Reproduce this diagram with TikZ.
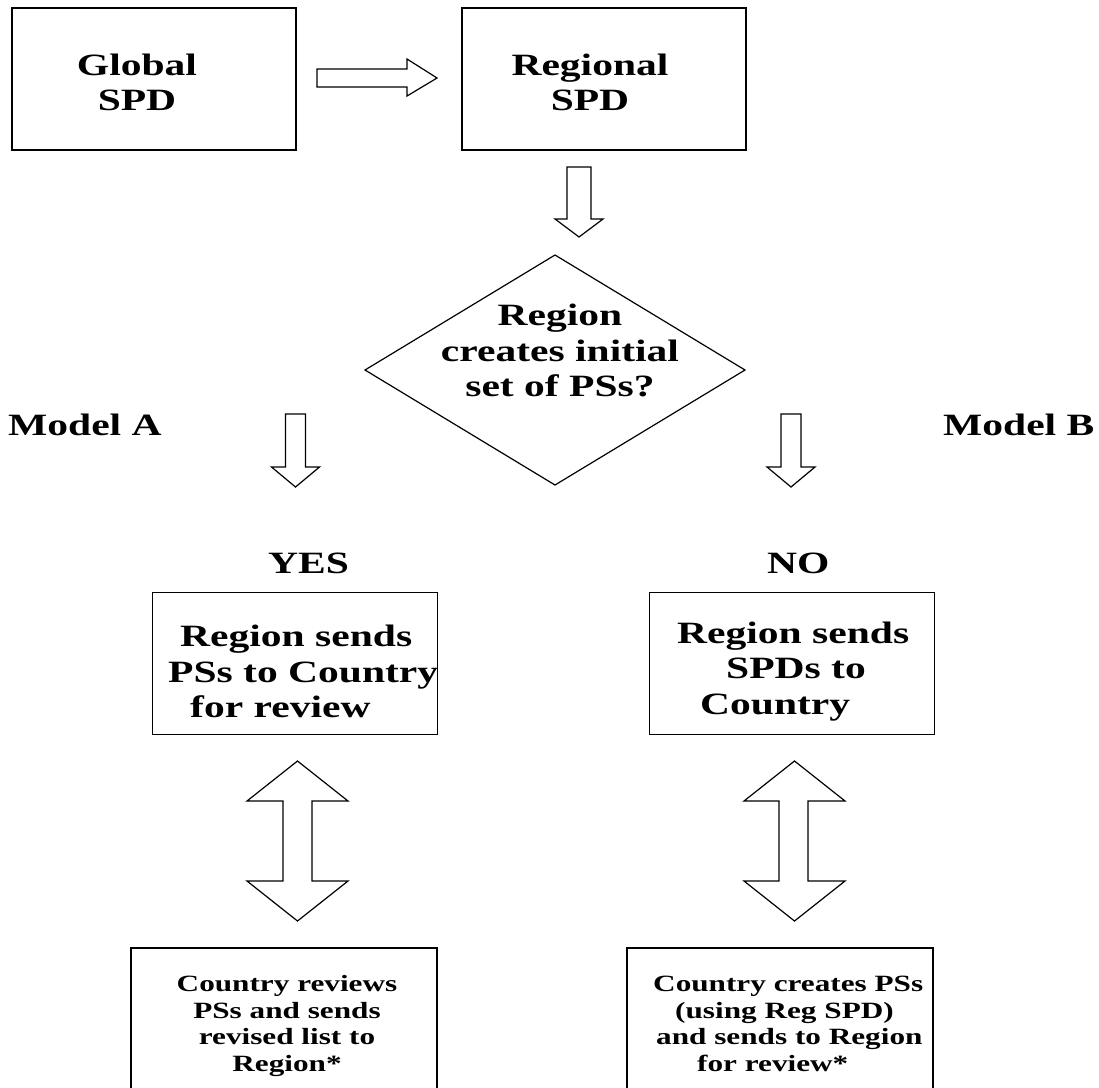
\documentclass[tikz,border=0pt]{standalone}
\usepackage{fontspec}
\setmainfont{Liberation Serif}[FakeStretch=1.34]
\begin{document}
\begin{tikzpicture}[x=1pt,y=-1pt,
  frame/.style={draw, line width=#1, inner sep=0pt, anchor=north west},
  frame/.default=1.6pt,
  blockarrow/.style={draw, line width=1.2pt, line join=miter, fill=white},
  bigtxt/.style={font=\fontsize{31}{35.7}\selectfont\bfseries, inner sep=0pt},
  smalltxt/.style={font=\fontsize{23.3}{26.6}\selectfont\bfseries, inner sep=0pt}]
\useasboundingbox (0,0) rectangle (1099,1087);
\clip (0,0) rectangle (1099,1087);

% top row: global and regional SPD
\node[frame=2pt, minimum width=284pt, minimum height=142pt] (global) at (11,7) {};
\node[bigtxt, align=center] (globaltxt) at (137,82.5) {Global\\SPD};
\node[frame=2pt, minimum width=284pt, minimum height=142pt] (regional) at (461,7) {};
\node[bigtxt, align=center] (regionaltxt) at (590,82.5) {Regional\\SPD};

% block arrow global -> regional
\draw[blockarrow] (317,69) -- (407,69) -- (407,59) -- (437,78) -- (407,96)
  -- (407,87) -- (317,87) -- cycle;

% block arrow regional -> decision
\draw[blockarrow] (567,167) -- (591,167) -- (591,219) -- (603,219) -- (579,237)
  -- (555,219) -- (567,219) -- cycle;

% decision diamond
\draw[line width=1.2pt, line join=miter] (365,370) -- (555,255) -- (745,370) -- (555,485) -- cycle;
\node[bigtxt, align=center] (decision) at (560,350.5) {Region\\creates initial\\set of PSs?};

% model labels
\node[bigtxt, anchor=base west] (modelA) at (8,435) {Model A};
\node[bigtxt, anchor=base west] (modelB) at (943,435) {Model B};

% block arrows out of the decision
\draw[blockarrow] (285.5,414) -- (305.5,414) -- (305.5,467) -- (319.5,467) -- (295.5,487)
  -- (271.5,467) -- (285.5,467) -- cycle;
\draw[blockarrow] (781,414) -- (801,414) -- (801,467) -- (815,467) -- (791,487)
  -- (767,467) -- (781,467) -- cycle;

% branch labels
\node[bigtxt, anchor=base west] (yes) at (268,573) {YES};
\node[bigtxt, anchor=base west] (no) at (767,573) {NO};

% middle boxes
\node[frame=1.4pt, minimum width=285pt, minimum height=142pt] (sendA) at (152,592) {};
\node[bigtxt, align=left, anchor=west] (sendAtxt) at (168,671.5)
  {\hspace*{12pt}Region sends\\PSs to Country\\\hspace*{22pt}for review};
\node[frame=1.4pt, minimum width=285pt, minimum height=142pt] (sendB) at (649,592) {};
\node[bigtxt, align=left, anchor=west] (sendBtxt) at (677,671.5)
  {Region sends\\\hspace*{49pt}SPDs to\\\hspace*{23pt}Country};

% two-way block arrows
\draw[blockarrow] (297.5,761) -- (348,801) -- (312,801) -- (312,881) -- (348,881)
  -- (297.5,921) -- (247,881) -- (283,881) -- (283,801) -- (247,801) -- cycle;
\draw[blockarrow] (794.5,761) -- (845,801) -- (808,801) -- (808,881) -- (845,881)
  -- (794.5,921) -- (744,881) -- (779,881) -- (779,801) -- (744,801) -- cycle;

% bottom boxes
\node[frame=1.6pt, minimum width=306pt, minimum height=160pt] (reviewA) at (130,947) {};
\node[smalltxt, align=center] (reviewAtxt) at (287,1026)
  {Country reviews\\PSs and sends\\revised list to\\Region*};
\node[frame=1.6pt, minimum width=306pt, minimum height=160pt] (reviewB) at (626,947) {};
\node[smalltxt, align=left, anchor=west] (reviewBtxt) at (653,1024)
  {Country creates PSs\\\hspace*{22pt}(using Reg SPD)\\\hspace*{3pt}and sends to Region\\\hspace*{44pt}for review*};
\end{tikzpicture}
\end{document}
